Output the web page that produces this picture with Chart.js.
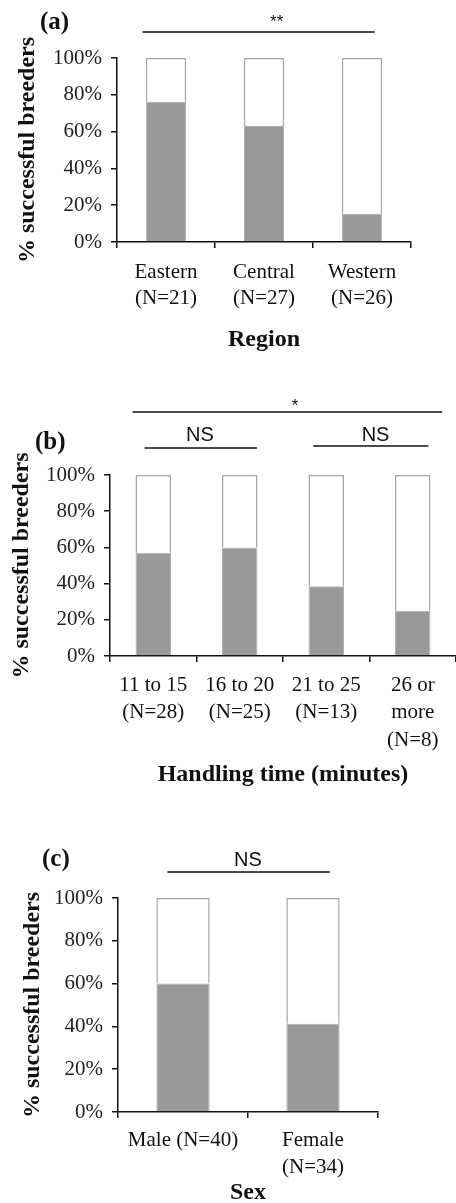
<!DOCTYPE html>
<html>
<head>
<meta charset="utf-8">
<script src="https://cdn.jsdelivr.net/npm/chart.js@4.4.1/dist/chart.umd.min.js"></script>
<style>
  html, body { margin: 0; padding: 0; background: #fff; }
  #wrap { position: relative; width: 456px; height: 1203px; overflow: hidden; }
  canvas { position: absolute; left: 0; }
</style>
</head>
<body>
<div id="wrap">
  <canvas id="chartA" width="456" height="360" style="top:0px"></canvas>
  <canvas id="chartB" width="456" height="430" style="top:360px"></canvas>
  <canvas id="chartC" width="456" height="413" style="top:790px"></canvas>
</div>
<script>
// --- Data ---
const regionLabels = [['Eastern', '(N=21)'], ['Central', '(N=27)'], ['Western', '(N=26)']];
const regionSuccess = [76.2, 63.0, 15.4];

const handlingLabels = [['11 to 15', '(N=28)'], ['16 to 20', '(N=25)'], ['21 to 25', '(N=13)'], ['26 or', 'more', '(N=8)']];
const handlingSuccess = [57.1, 60.0, 38.5, 25.0];

const sexLabels = [['Male (N=40)'], ['Female', '(N=34)']];
const sexSuccess = [60.0, 41.2];

const yTickStep = 20;
const yTitle = '% successful breeders';

Chart.defaults.font.family = '"Liberation Serif", "Times New Roman", serif';
Chart.defaults.color = '#111';

// --- Significance bars / panel letters drawn on top ---
function sigPlugin(ann) {
    return {
        id: 'sig',
        afterDraw(chart) {
            const ctx = chart.ctx;
            const xs = chart.scales.x;
            ctx.save();
            ctx.fillStyle = '#111';
            ctx.strokeStyle = '#111';
            // panel letter
            ctx.font = 'bold 25px "Liberation Serif"';
            ctx.textAlign = 'left';
            ctx.textBaseline = 'alphabetic';
            ctx.fillText(ann.letter.text, ann.letter.x, ann.letter.y);
            // bracket lines
            ctx.lineWidth = 1.5;
            ann.lines.forEach(l => {
                ctx.beginPath();
                ctx.moveTo(xs.getPixelForValue(l.from), l.y);
                ctx.lineTo(xs.getPixelForValue(l.to), l.y);
                ctx.stroke();
            });
            // NS / stars
            ctx.textAlign = 'center';
            ann.texts.forEach(t => {
                ctx.font = t.size + 'px "Liberation Sans"';
                ctx.fillText(t.text, xs.getPixelForValue(t.at), t.y);
            });
            ctx.restore();
        }
    };
}

function makePanel(id, labels, success, lay, ann) {
    const ctx = document.getElementById(id).getContext('2d');
    const failure = success.map(v => 100 - v);
    return new Chart(ctx, {
        type: 'bar',
        data: {
            labels: labels,
            datasets: [{
                label: 'successful',
                data: success,
                backgroundColor: '#999999',
                borderColor: '#b0b0b0',
                borderWidth: 1,
                borderSkipped: 'bottom',
                barPercentage: 0.41,
                categoryPercentage: 1
            }, {
                label: 'unsuccessful',
                data: failure,
                backgroundColor: '#ffffff',
                borderColor: '#a6a6a6',
                borderWidth: 1.5,
                borderSkipped: 'bottom',
                barPercentage: 0.41,
                categoryPercentage: 1
            }]
        },
        options: {
            responsive: false,
            animation: false,
            layout: { padding: { top: lay.top, right: lay.right, left: 0, bottom: 0 } },
            plugins: { legend: { display: false }, tooltip: { enabled: false } },
            scales: {
                x: {
                    stacked: true,
                    afterFit: s => { s.height = lay.xHeight; },
                    grid: { offset: true, drawOnChartArea: false, tickLength: 6, color: '#111', lineWidth: 1.5 },
                    border: { color: '#111', width: 1.5 },
                    ticks: { padding: lay.tickPad, maxRotation: 0, autoSkip: false,
                             font: { size: 21, lineHeight: lay.tickLH }, color: '#111' },
                    title: { display: true, text: lay.xTitle,
                             font: { size: 24, weight: 'bold', lineHeight: lay.xTitleLH },
                             padding: { top: 0, bottom: lay.xTitlePad }, color: '#111' }
                },
                y: {
                    stacked: true,
                    min: 0, max: 100,
                    afterFit: s => { s.width = lay.left; },
                    grid: { drawOnChartArea: false, tickLength: 6, color: '#111', lineWidth: 1.5 },
                    border: { color: '#111', width: 1.5 },
                    ticks: { stepSize: yTickStep, padding: 9, font: { size: 21 }, color: '#222',
                             callback: v => v + '%' },
                    title: { display: true, text: yTitle,
                             font: { size: 24, weight: 'bold', lineHeight: 1.1 },
                             padding: { top: lay.yTitlePad, bottom: 0 }, color: '#111' }
                }
            }
        },
        plugins: [sigPlugin(ann)]
    });
}

// (a) Region
makePanel('chartA', regionLabels, regionSuccess,
    { top: 58, right: 45, left: 117, xHeight: 118, tickPad: 11, tickLH: 1.25,
      xTitle: 'Region', xTitleLH: 1.1, xTitlePad: 7, yTitlePad: 15 },
    { letter: { text: '(a)', x: 40, y: 29 },
      lines: [{ from: -0.24, to: 2.13, y: 32 }],
      texts: [{ text: '**', at: 1.13, y: 27, size: 17 }] });

// (b) Handling time
makePanel('chartB', handlingLabels, handlingSuccess,
    { top: 115, right: 0, left: 110, xHeight: 134, tickPad: 10, tickLH: 1.3,
      xTitle: 'Handling time (minutes)', xTitleLH: 1.1, xTitlePad: 2, yTitlePad: 9 },
    { letter: { text: '(b)', x: 35, y: 89 },
      lines: [{ from: -0.24, to: 3.34, y: 52 },
              { from: -0.1, to: 1.2, y: 88 },
              { from: 1.85, to: 3.18, y: 86 }],
      texts: [{ text: '*', at: 1.64, y: 51, size: 17 },
              { text: 'NS', at: 0.54, y: 81, size: 20 },
              { text: 'NS', at: 2.57, y: 81, size: 20 }] });

// (c) Sex
makePanel('chartC', sexLabels, sexSuccess,
    { top: 108, right: 78, left: 118, xHeight: 91, tickPad: 9, tickLH: 1.3,
      xTitle: 'Sex', xTitleLH: 0.84, xTitlePad: 0, yTitlePad: 20 },
    { letter: { text: '(c)', x: 42, y: 76 },
      lines: [{ from: -0.12, to: 1.13, y: 82 }],
      texts: [{ text: 'NS', at: 0.5, y: 76, size: 20 }] });
</script>
</body>
</html>
